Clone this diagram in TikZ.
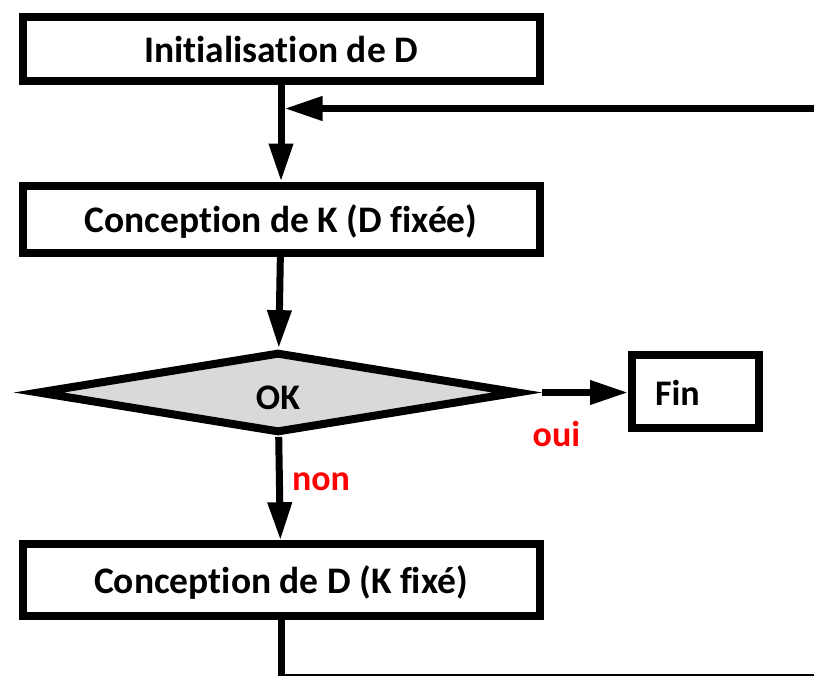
\documentclass[tikz,border=0pt]{standalone}
\usepackage{fontspec}
\setmainfont{Carlito}[Ligatures={NoCommon,NoContextual},RawFeature={-liga;-clig;-calt}]
\usetikzlibrary{shapes.geometric,arrows.meta}
\definecolor{okgray}{HTML}{D9D9D9}

\begin{document}
\begin{tikzpicture}[x=1pt,y=-1pt,
  box/.style={draw, line width=8pt, minimum width=517pt, inner sep=0pt,
    text height=27pt, text depth=0pt,
    font=\bfseries\fontsize{37.5}{42}\selectfont},
  arr/.style={line width=7pt, -{Triangle[length=38pt,width=23pt]}},
  lab/.style={text=red, anchor=base, font=\bfseries\fontsize{36}{40}\selectfont}]
\useasboundingbox (0,0) rectangle (814,675);

\node[box, minimum height=64pt] (init) at (281,49) {Initialisation de D};
\node[box, minimum height=67pt] (concK) at (281,219) {Conception de K (D fixée)};
\node[diamond, draw, line width=8pt, fill=okgray, aspect=6, inner sep=0pt,
  minimum width=482pt, minimum height=81pt, text height=34pt, text depth=0pt,
  font=\bfseries\fontsize{36}{40}\selectfont] (ok) at (278,392.5) {OK};
\node[box, minimum width=127pt, minimum height=73pt, text width=81pt,
  align=left, inner xsep=23pt, font=\bfseries\fontsize{36}{40}\selectfont]
  (fin) at (695.5,391.5) {Fin};
\node[box, minimum height=71.5pt] (concD) at (281,580) {Conception de D (K fixé)};

\node[lab] (oui) at (556.5,446) {oui};
\node[lab] (non) at (321,490) {non};

\coordinate (oktip) at ([xshift=19pt]ok.east);
\coordinate (loopbot) at (850,677);
\coordinate (join) at (284.5,108.5);

\draw[arr] (init) -- (concK);
\draw[arr] (concK) -- (ok);
\draw[arr] (oktip) -- (oktip -| fin.west);
\draw[arr] (ok) -- (concD);
\draw[arr] (concD.south) |- (loopbot) |- (join);

\end{tikzpicture}
\end{document}
